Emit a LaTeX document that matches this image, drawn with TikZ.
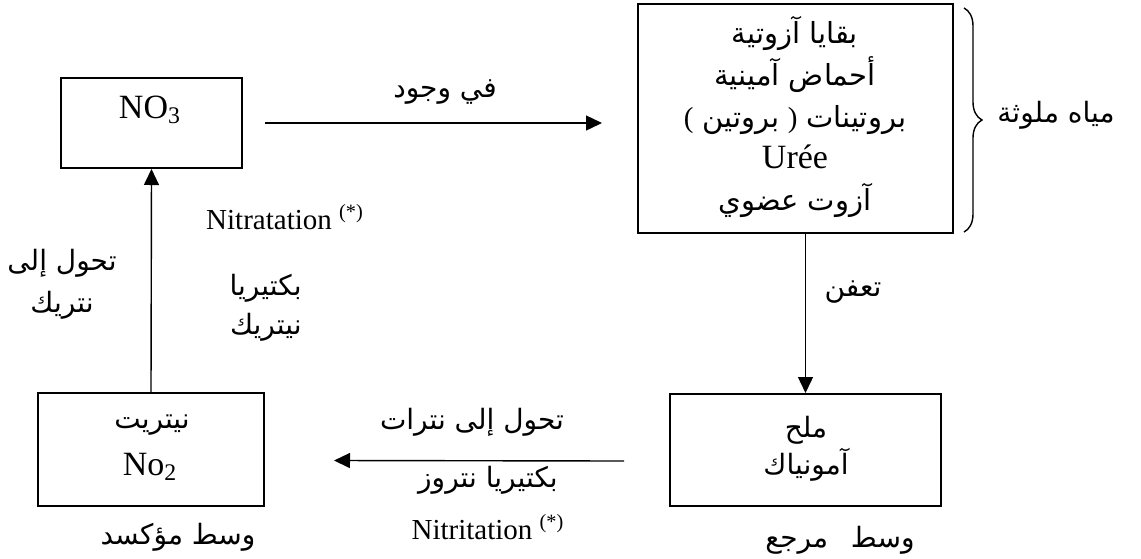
\documentclass[tikz,border=0pt]{standalone}
\usepackage{fontspec}
\setmainfont{Liberation Serif}
\newfontfamily\arfont[Script=Arabic]{DejaVu Sans}
\TeXXeTstate=1
\usetikzlibrary{arrows.meta,decorations.pathreplacing,calc}
\newcommand\AR[1]{{\arfont\beginR #1\endR}}
\begin{document}
\begin{tikzpicture}[x=0.5pt,y=-0.5pt,
  box/.style={draw, line width=1pt, inner sep=0pt, anchor=north west},
  conn/.style={line width=0.7pt, -{Triangle[length=8pt,width=7.5pt]}},
  lat/.style={font=\fontsize{17}{20}\selectfont, inner sep=0pt},
  latsm/.style={font=\fontsize{14.5}{18}\selectfont, inner sep=0pt},
  arab/.style={font=\fontsize{14}{20}\selectfont, inner sep=0pt}]
\useasboundingbox (0,0) rectangle (1141,558);
% boxes
\node[box, minimum width=90.5pt, minimum height=45pt] (no3) at (60,77) {};
\node[box, minimum width=157.5pt, minimum height=114.5pt] (big) at (637,3) {};
\node[box, minimum width=135.5pt, minimum height=56pt] (amm) at (669,393) {};
\node[box, minimum width=113pt, minimum height=56.5pt] (no2) at (37,392) {};
% box texts
\node[lat] (no3t) at (150,110) {NO\textsubscript{3}};
\node[align=center, inner sep=0pt, font=\fontsize{14.5}{20.8}\selectfont] (bigt) at (795,117)
  {\AR{بقايا آزوتية}\\ \AR{أحماض آمينية}\\
   \mbox{(}\hspace{0.3em}\mbox{\AR{بروتين}}\hspace{0.3em}\mbox{)}\hspace{0.3em}\mbox{\AR{بروتينات}}\\
   {\fontsize{17}{20.8}\selectfont Urée}\\ \AR{آزوت عضوي}};
\node[align=center, inner sep=0pt, font=\fontsize{14}{18.5}\selectfont] (ammt) at (806,449)
  {\AR{ملح}\\ \AR{آمونياك}};
\node[arab] (no2a) at (152,425) {\AR{نيتريت}};
\node[lat] (no2t) at (150,467) {No\textsubscript{2}};
% connectors
\draw[conn] ([xshift=11pt]no3.east) -- ($(no3.east -| big.west)+(-35,0)$);
\draw[conn] (amm.north |- big.south) -- (amm.north);
\draw[conn] ($(amm.west)+(-45,11)$) -- ($(no2.east)+(69,11)$);
\draw[conn] (no2.north) -- (no3.south);
% brace
\draw[line width=0.7pt, decorate, decoration={brace, amplitude=9pt}]
  ([xshift=5pt,yshift=-2.5pt]big.north east) -- ([xshift=5pt,yshift=1pt]big.south east);
% labels
\node[arab] (invoj) at (445,92) {\AR{في وجود}};
\node[arab] (poll) at (1056,115) {\AR{مياه ملوثة}};
\node[arab] (taafun) at (853,292) {\AR{تعفن}};
\node[arab] (wmarj) at (840,540) {\AR{وسط\hspace{0.5em} مرجع}};
\node[arab] (tahnit) at (472,422) {\AR{تحول إلى نترات}};
\node[arab] (baknit) at (488,480) {\AR{بكتيريا نتروز}};
\node[latsm] (nitri) at (488,527) {Nitritation \textsuperscript{(*)}};
\node[arab] (wmuk) at (178,537) {\AR{وسط مؤكسد}};
\node[align=center, inner sep=0pt, font=\fontsize{14}{21}\selectfont] (tahnitr) at (62,284)
  {\AR{تحول إلى}\\ \AR{نتريك}};
\node[align=right, inner sep=0pt, anchor=east, font=\fontsize{14}{19.5}\selectfont] (baknitr) at (302,308)
  {\AR{بكتيريا}\\ \AR{نيتريك}};
\node[latsm] (nitra) at (285,217) {Nitratation \textsuperscript{(*)}};
\end{tikzpicture}
\end{document}
